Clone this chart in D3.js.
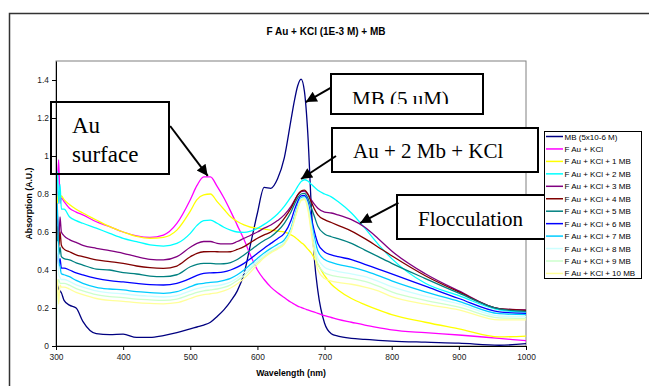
<!DOCTYPE html>
<html>
<head>
<meta charset="utf-8">
<script src="https://cdn.jsdelivr.net/npm/d3@7"></script>
<style>
  body { margin: 0; background: #fff; }
  svg { display: block; }
</style>
</head>
<body>
<div id="chart"></div>
<script>
// wavelength grid (nm) shared by every spectrum
const wavelengths = [300, 302, 304, 306, 308, 312, 320, 330, 340, 360, 380, 400, 420, 440, 460, 480, 500,
  510, 520, 530, 540, 550, 560, 570, 580, 590, 600, 610, 620, 630, 640, 650, 655, 660, 665, 670, 675,
  680, 685, 690, 700, 710, 720, 740, 760, 780, 800, 850, 900, 960, 1000];

const mbOnly = [0.3, 0.32, 0.3, 0.29, 0.28, 0.24, 0.215, 0.2, 0.13, 0.065, 0.06, 0.062, 0.045, 0.045, 0.055, 0.07, 0.09,
  0.1, 0.11, 0.125, 0.155, 0.19, 0.235, 0.29, 0.38, 0.54, 0.70, 0.835, 0.83, 0.88, 0.99, 1.19, 1.29, 1.37, 1.405, 1.34, 1.12,
  0.75, 0.45, 0.29, 0.12, 0.065, 0.052, 0.04, 0.035, 0.03, 0.026, 0.02, 0.015, 0.004, 0.012];
const auKcl = [0.6, 0.85, 0.98, 0.75, 0.78, 0.76, 0.725, 0.705, 0.69, 0.654, 0.628, 0.60, 0.58, 0.572, 0.584, 0.645, 0.77,
  0.845, 0.89, 0.89, 0.84, 0.78, 0.71, 0.635, 0.56, 0.475, 0.40, 0.35, 0.31, 0.28, 0.255, 0.23, 0.22, 0.21, 0.203, 0.196, 0.19,
  0.184, 0.178, 0.172, 0.16, 0.15, 0.14, 0.125, 0.11, 0.097, 0.085, 0.07, 0.058, 0.04, 0.028];
const mb1 = [0.88, 0.75, 0.8, 0.78, 0.79, 0.77, 0.745, 0.72, 0.70, 0.663, 0.628, 0.60, 0.577, 0.567, 0.572, 0.61, 0.71,
  0.77, 0.795, 0.80, 0.76, 0.72, 0.68, 0.655, 0.637, 0.625, 0.62, 0.615, 0.61, 0.605, 0.60, 0.585, 0.575, 0.56, 0.545, 0.53, 0.51,
  0.49, 0.46, 0.43, 0.37, 0.325, 0.295, 0.25, 0.218, 0.19, 0.165, 0.125, 0.09, 0.048, 0.052];
const mb2 = [0.7, 0.92, 0.75, 0.85, 0.72, 0.72, 0.68, 0.66, 0.646, 0.62, 0.593, 0.567, 0.549, 0.532, 0.526, 0.54, 0.593,
  0.635, 0.66, 0.663, 0.646, 0.625, 0.61, 0.60, 0.598, 0.605, 0.619, 0.64, 0.665, 0.695, 0.735, 0.785, 0.81, 0.84, 0.865, 0.875, 0.868,
  0.852, 0.835, 0.82, 0.80, 0.785, 0.76, 0.70, 0.62, 0.535, 0.46, 0.33, 0.265, 0.19, 0.178];
const mb3 = [0.6, 0.7, 0.55, 0.68, 0.6, 0.58, 0.56, 0.545, 0.53, 0.514, 0.502, 0.488, 0.47, 0.456, 0.453, 0.47, 0.52,
  0.54, 0.55, 0.55, 0.54, 0.537, 0.537, 0.55, 0.567, 0.583, 0.60, 0.62, 0.637, 0.66, 0.69, 0.735, 0.765, 0.795, 0.812, 0.815, 0.8,
  0.77, 0.745, 0.725, 0.705, 0.70, 0.69, 0.665, 0.625, 0.565, 0.50, 0.38, 0.29, 0.197, 0.19];
const mb4 = [0.55, 0.63, 0.52, 0.6, 0.53, 0.51, 0.496, 0.48, 0.47, 0.453, 0.444, 0.435, 0.421, 0.412, 0.409, 0.421, 0.47,
  0.488, 0.496, 0.497, 0.496, 0.495, 0.496, 0.508, 0.523, 0.545, 0.567, 0.585, 0.60, 0.628, 0.672, 0.725, 0.76, 0.795, 0.815, 0.82, 0.8,
  0.76, 0.72, 0.69, 0.665, 0.65, 0.635, 0.605, 0.565, 0.52, 0.475, 0.37, 0.285, 0.197, 0.188];
const mb5 = [0.5, 0.58, 0.48, 0.52, 0.47, 0.46, 0.453, 0.438, 0.426, 0.405, 0.40, 0.386, 0.379, 0.368, 0.365, 0.375, 0.417,
  0.43, 0.435, 0.435, 0.432, 0.433, 0.439, 0.455, 0.479, 0.505, 0.532, 0.555, 0.575, 0.605, 0.646, 0.705, 0.745, 0.78, 0.80, 0.803, 0.78,
  0.73, 0.68, 0.63, 0.59, 0.575, 0.565, 0.54, 0.505, 0.47, 0.435, 0.355, 0.278, 0.195, 0.182];
const mb6 = [0.45, 0.52, 0.42, 0.46, 0.41, 0.41, 0.40, 0.385, 0.374, 0.356, 0.344, 0.337, 0.33, 0.323, 0.321, 0.33, 0.356,
  0.372, 0.382, 0.385, 0.386, 0.39, 0.40, 0.415, 0.435, 0.46, 0.488, 0.515, 0.54, 0.565, 0.593, 0.66, 0.715, 0.76, 0.79, 0.792, 0.76,
  0.68, 0.6, 0.54, 0.495, 0.48, 0.47, 0.455, 0.43, 0.405, 0.38, 0.315, 0.25, 0.18, 0.172];
const mb7 = [0.6, 0.75, 0.45, 0.42, 0.38, 0.375, 0.365, 0.345, 0.33, 0.309, 0.30, 0.295, 0.286, 0.281, 0.277, 0.286, 0.312,
  0.325, 0.33, 0.335, 0.337, 0.345, 0.356, 0.375, 0.40, 0.43, 0.461, 0.49, 0.514, 0.535, 0.558, 0.62, 0.68, 0.74, 0.78, 0.785, 0.75,
  0.66, 0.57, 0.5, 0.455, 0.44, 0.43, 0.415, 0.395, 0.37, 0.343, 0.285, 0.235, 0.17, 0.165];
const mb8 = [0.4, 0.55, 0.38, 0.36, 0.35, 0.35, 0.34, 0.322, 0.31, 0.29, 0.28, 0.275, 0.267, 0.262, 0.258, 0.265, 0.29,
  0.302, 0.31, 0.315, 0.318, 0.325, 0.337, 0.358, 0.385, 0.415, 0.45, 0.48, 0.50, 0.52, 0.545, 0.61, 0.67, 0.73, 0.775, 0.78, 0.74,
  0.64, 0.54, 0.46, 0.415, 0.40, 0.392, 0.38, 0.365, 0.34, 0.312, 0.262, 0.222, 0.158, 0.155];
const mb9 = [0.0, 0.3, 0.35, 0.33, 0.33, 0.33, 0.32, 0.302, 0.29, 0.27, 0.26, 0.255, 0.247, 0.243, 0.24, 0.247, 0.27,
  0.282, 0.29, 0.295, 0.30, 0.308, 0.322, 0.345, 0.37, 0.405, 0.44, 0.47, 0.495, 0.515, 0.54, 0.605, 0.665, 0.725, 0.77, 0.775, 0.73,
  0.62, 0.51, 0.43, 0.385, 0.372, 0.365, 0.355, 0.34, 0.315, 0.285, 0.24, 0.205, 0.148, 0.145];
const mb10 = [0.2, 0.35, 0.22, 0.32, 0.31, 0.31, 0.30, 0.282, 0.27, 0.25, 0.24, 0.235, 0.228, 0.224, 0.222, 0.228, 0.25,
  0.262, 0.27, 0.275, 0.28, 0.29, 0.305, 0.328, 0.355, 0.39, 0.43, 0.465, 0.49, 0.51, 0.535, 0.60, 0.66, 0.72, 0.765, 0.77, 0.72,
  0.60, 0.48, 0.4, 0.355, 0.342, 0.335, 0.325, 0.31, 0.29, 0.26, 0.22, 0.19, 0.137, 0.138];

const seriesNames = ['MB (5x10-6 M)', 'F Au + KCl', 'F Au + KCl + 1 MB', 'F Au + KCl + 2 MB', 'F Au + KCl + 3 MB',
  'F Au + KCl + 4 MB', 'F Au + KCl + 5 MB', 'F Au + KCl + 6 MB', 'F Au + KCl + 7 MB', 'F Au + KCl + 8 MB',
  'F Au + KCl + 9 MB', 'F Au + KCl + 10 MB'];
const seriesValues = [mbOnly, auKcl, mb1, mb2, mb3, mb4, mb5, mb6, mb7, mb8, mb9, mb10];
const seriesColors = ['#000080', '#FF00FF', '#FFFF00', '#00FFFF', '#800080', '#800000', '#008080', '#0000FF',
  '#00CCFF', '#CCFFFF', '#CCFFCC', '#FFFF99'];

const xTicks = [300, 400, 500, 600, 700, 800, 900, 1000];
const yTicks = [0, 0.2, 0.4, 0.6, 0.8, 1, 1.2, 1.4];

// callouts: text box (px) + arrow from tail to tip in data units
const callouts = [
  { lines: ['Au', 'surface'], box: [51, 102, 118, 72], size: 23, tx: 72, ty: [133, 162], fill: 'none',
    from: [470, 1.158], to: [526, 0.895] },
  { lines: ['MB (5 uM)'], box: [331, 74, 152, 40], size: 21, tx: 352, ty: [106], fill: '#fff', clip: 104,
    from: [709, 1.358], to: [672, 1.284] },
  { lines: ['Au + 2 Mb + KCl'], box: [332, 128, 206, 44], size: 21, tx: 353, ty: [158], fill: '#fff',
    from: [717, 1.0], to: [665, 0.879] },
  { lines: ['Flocculation'], box: [397, 195, 165, 44], size: 21, tx: 418, ty: [226], fill: '#fff',
    from: [810, 0.753], to: [753, 0.647] }
];

const width = 649, height = 386;
const margin = { top: 61, right: 123, bottom: 40, left: 56 };
const plotW = width - margin.left - margin.right;
const plotH = height - margin.top - margin.bottom;

const svg = d3.select('#chart').append('svg')
  .attr('width', width)
  .attr('height', height)
  .style('font-family', '"Liberation Sans", Arial, sans-serif');

// outer chart frame
svg.append('rect')
  .attr('x', 9.5).attr('y', 13.5)
  .attr('width', 700).attr('height', 400)
  .attr('fill', '#fff')
  .attr('stroke', '#333').attr('stroke-width', 1.5);

svg.append('text')
  .attr('x', 326).attr('y', 35)
  .attr('text-anchor', 'middle')
  .attr('font-size', '10px').attr('font-weight', 'bold')
  .text('F Au + KCl (1E-3 M) + MB');

const x = d3.scaleLinear().domain([300, 1000]).range([margin.left, margin.left + plotW]);
const y = d3.scaleLinear().domain([0, 1.5]).range([margin.top + plotH, margin.top]);

// plot area border
svg.append('rect')
  .attr('x', margin.left).attr('y', margin.top)
  .attr('width', plotW).attr('height', plotH)
  .attr('fill', 'none').attr('stroke', '#808080').attr('stroke-width', 1);

svg.append('clipPath').attr('id', 'plotClip')
  .append('rect')
  .attr('x', margin.left).attr('y', margin.top - 2)
  .attr('width', plotW).attr('height', plotH + 2);

const line = d3.line()
  .x(d => x(d[0]))
  .y(d => y(d[1]))
  .curve(d3.curveMonotoneX);

svg.append('g')
  .attr('clip-path', 'url(#plotClip)')
  .selectAll('path')
  .data(seriesValues)
  .enter()
  .append('path')
  .attr('d', vals => line(wavelengths.map((w, i) => [w, vals[i]])))
  .attr('fill', 'none')
  .attr('stroke', (d, i) => seriesColors[i])
  .attr('stroke-width', 1.3);

// axes
const xAxis = svg.append('g')
  .attr('transform', `translate(0,${margin.top + plotH})`)
  .call(d3.axisBottom(x).tickValues(xTicks).tickFormat(d3.format('d')).tickSize(4).tickPadding(4).tickSizeOuter(0));
const yAxis = svg.append('g')
  .attr('transform', `translate(${margin.left},0)`)
  .call(d3.axisLeft(y).tickValues(yTicks).tickFormat(d => String(d)).tickSize(4).tickPadding(3).tickSizeOuter(0));

[xAxis, yAxis].forEach(g => {
  g.select('.domain').attr('stroke', '#000');
  g.selectAll('.tick line').attr('stroke', '#000');
  g.selectAll('.tick text')
    .attr('fill', '#222')
    .style('font-family', '"Liberation Sans", Arial, sans-serif')
    .style('font-size', '8.4px');
});

svg.append('text')
  .attr('x', margin.left + plotW / 2).attr('y', 376)
  .attr('text-anchor', 'middle')
  .attr('font-size', '8.7px').attr('font-weight', 'bold')
  .text('Wavelength (nm)');

svg.append('text')
  .attr('transform', `translate(32,${margin.top + plotH / 2}) rotate(-90)`)
  .attr('text-anchor', 'middle')
  .attr('font-size', '8.7px').attr('font-weight', 'bold')
  .text('Absorption (A.U.)');

// arrow head marker
svg.append('defs').append('marker')
  .attr('id', 'arrowHead')
  .attr('viewBox', '0 0 10 10')
  .attr('refX', 10).attr('refY', 5)
  .attr('markerWidth', 6.5).attr('markerHeight', 5.5)
  .attr('markerUnits', 'strokeWidth')
  .attr('orient', 'auto')
  .append('path')
  .attr('d', 'M0,0L10,5L0,10Z')
  .attr('fill', '#000');

callouts.forEach((c, k) => {
  const g = svg.append('g');
  g.append('rect')
    .attr('x', c.box[0]).attr('y', c.box[1])
    .attr('width', c.box[2]).attr('height', c.box[3])
    .attr('fill', c.fill)
    .attr('stroke', '#000').attr('stroke-width', 2);
  const txt = g.append('g');
  if (c.clip) {
    svg.append('clipPath').attr('id', 'calloutClip' + k)
      .append('rect')
      .attr('x', c.box[0]).attr('y', c.box[1])
      .attr('width', c.box[2]).attr('height', c.clip - c.box[1]);
    txt.attr('clip-path', `url(#calloutClip${k})`);
  }
  c.lines.forEach((t, j) => {
    txt.append('text')
      .attr('x', c.tx).attr('y', c.ty[j])
      .attr('font-family', '"Liberation Serif", "Times New Roman", serif')
      .attr('font-size', c.size + 'px')
      .attr('fill', '#000')
      .text(t);
  });
  svg.append('line')
    .attr('x1', x(c.from[0])).attr('y1', y(c.from[1]))
    .attr('x2', x(c.to[0])).attr('y2', y(c.to[1]))
    .attr('stroke', '#000').attr('stroke-width', 2)
    .attr('marker-end', 'url(#arrowHead)');
});

// legend
const legend = svg.append('g');
legend.append('rect')
  .attr('x', 544.5).attr('y', 131.5)
  .attr('width', 97).attr('height', 147)
  .attr('fill', '#fff')
  .attr('stroke', '#000').attr('stroke-width', 1);

const rowStep = 12.45;
seriesNames.forEach((name, i) => {
  const yy = 136.5 + i * rowStep;
  legend.append('line')
    .attr('x1', 546).attr('x2', 563)
    .attr('y1', yy).attr('y2', yy)
    .attr('stroke', seriesColors[i]).attr('stroke-width', 1.5);
  legend.append('text')
    .attr('x', 564.5).attr('y', yy + 3)
    .attr('font-size', '8px')
    .attr('fill', '#000')
    .text(name);
});
</script>
</body>
</html>
